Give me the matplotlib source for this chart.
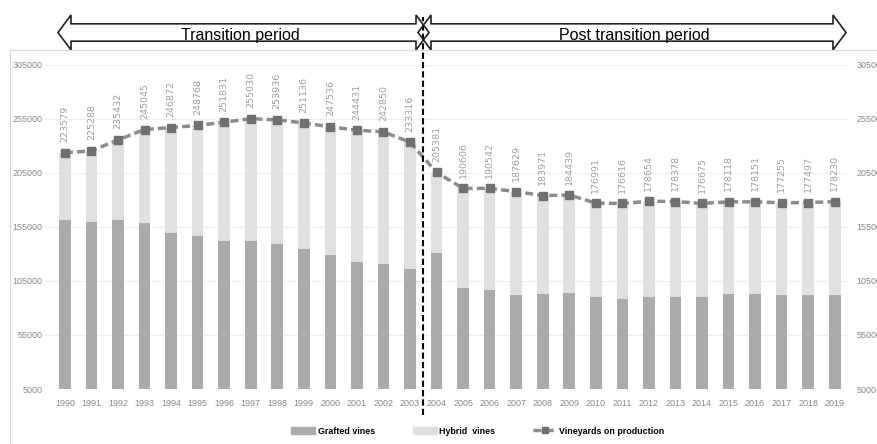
import numpy as np
import matplotlib
matplotlib.use('Agg')
import matplotlib.pyplot as plt
from matplotlib import font_manager
from matplotlib.patches import Polygon, Patch
from matplotlib.lines import Line2D

# Data
years = list(range(1990, 2020))
grafted = [161000, 159500, 161600, 158900, 149600, 146500, 142000, 141600, 139100, 134500,
           128700, 122500, 120600, 116000, 131100, 98700, 96600, 92200, 92900, 94100,
           90100, 88000, 90100, 90100, 90100, 92900, 92900, 92000, 92200, 92000]
hybrid = [62600, 65800, 73800, 86100, 97300, 102300, 109800, 113400, 114800, 116600,
          118800, 121900, 122300, 117300, 74300, 91900, 93900, 95400, 91100, 90300,
          86900, 88600, 88600, 88300, 86600, 85200, 85300, 85300, 85300, 86200]
production = [223579, 225288, 235432, 245045, 246872, 248768, 251831, 255030, 253936, 251136,
              247536, 244431, 242850, 233316, 205381, 190606, 190542, 187629, 183971, 184439,
              176991, 176616, 178654, 178378, 176675, 178118, 178151, 177255, 177497, 178230]
yticks = [5000, 55000, 105000, 155000, 205000, 255000, 305000]

# pick a narrow-ish font, shrink if only a normal width one is there
available = {f.name for f in font_manager.fontManager.ttflist}
if 'Liberation Sans Narrow' in available:
    narrow, k = 'Liberation Sans Narrow', 1.0
elif 'DejaVu Sans Condensed' in available:
    narrow, k = 'DejaVu Sans Condensed', 0.85
else:
    narrow, k = 'Liberation Sans', 0.85

W, H = 877, 444
fig = plt.figure(figsize=(W / 100, H / 100), dpi=100)
ax = fig.add_axes([45 / W, (H - 389) / H, (848 - 45) / W, (389 - 64.7) / H])

x = np.arange(len(years))
ax.bar(x, grafted, width=0.44, color='#ababab', zorder=2)
ax.bar(x, hybrid, width=0.44, bottom=grafted, color='#e0e0e0', zorder=2)
ax.plot(x, production, color='#8c8c8c', lw=2.5, linestyle=(0, (2.3, 1.2)),
        marker='s', markersize=5.5, markerfacecolor='#707070', markeredgecolor='#707070', zorder=3)
for xi, v in zip(x, production):
    ax.annotate(str(v), (xi, v), xytext=(0, 7.5), textcoords='offset points',
                rotation=90, ha='center', va='bottom', fontsize=6.8, color='#a0a0a0')

ax.set_xlim(-0.75, 29.5)
ax.set_ylim(5000, 305000)
ax.set_yticks(yticks)
ax.set_yticklabels([str(t) for t in yticks], family=narrow, fontsize=7.6 * k, color='#888888')
ax.set_xticks(x)
ax.set_xticklabels([str(y) for y in years], family=narrow, fontsize=7.6 * k, color='#888888')
ax.tick_params(axis='y', length=0, pad=2)
ax.tick_params(axis='x', length=0, pad=7)
ax.grid(axis='y', color='#efefef', lw=0.8, zorder=0)
for s in ax.spines.values():
    s.set_visible(False)

ax2 = ax.twinx()
ax2.set_ylim(5000, 305000)
ax2.set_yticks(yticks)
ax2.set_yticklabels([str(t) for t in yticks], family=narrow, fontsize=7.6 * k, color='#888888')
ax2.tick_params(axis='y', length=0, pad=6)
for s in ax2.spines.values():
    s.set_visible(False)

# vertical dashed separator between 2003 and 2004
ax.plot([13.5, 13.5], [-0.08, 1.147], transform=ax.get_xaxis_transform(), color='black',
        lw=1.5, linestyle=(0, (3, 1.5)), clip_on=False, zorder=5)

# overlay in pixel coords for chart border and period arrows
ov = fig.add_axes([0, 0, 1, 1], facecolor='none')
ov.set_xlim(0, W)
ov.set_ylim(H, 0)
ov.axis('off')
ov.plot([10, W], [50, 50], color='#d9d9d9', lw=0.8)
ov.plot([10, 10], [50, H], color='#d9d9d9', lw=0.8)


def block_arrow(x0, x1, yc, shaft=8.7, head=17.5, hl=13):
    pts = [(x0, yc), (x0 + hl, yc - head), (x0 + hl, yc - shaft), (x1 - hl, yc - shaft),
           (x1 - hl, yc - head), (x1, yc), (x1 - hl, yc + head), (x1 - hl, yc + shaft),
           (x0 + hl, yc + shaft), (x0 + hl, yc + head)]
    ov.add_patch(Polygon(pts, closed=True, facecolor='none', edgecolor='#222222', lw=1.2))


block_arrow(58, 429, 32.5)
block_arrow(418, 846, 32.5)
tsize = 13 if k == 1.0 else 11.5
ov.text(240, 40, 'Transition period', ha='center', va='baseline', fontsize=tsize, family=narrow)
ov.text(634, 40, 'Post transition period', ha='center', va='baseline', fontsize=tsize, family=narrow)

handles = [Patch(color='#ababab'), Patch(color='#e0e0e0'),
           Line2D([], [], color='#8c8c8c', lw=2.5, linestyle=(0, (2.3, 1.2)), marker='s',
                  markersize=5, markerfacecolor='#707070', markeredgecolor='#707070')]
labels = ['Grafted vines', 'Hybrid  vines', 'Vineyards on production']
fig.legend(handles, labels, loc='center', bbox_to_anchor=(478 / W, (H - 431) / H), ncol=3,
           frameon=False, handlelength=2.3 / k, handletextpad=0.3, columnspacing=3.6 / k,
           prop={'family': narrow, 'size': 7.5 * k, 'weight': 'bold'})

fig.savefig('out.png', dpi=100)
